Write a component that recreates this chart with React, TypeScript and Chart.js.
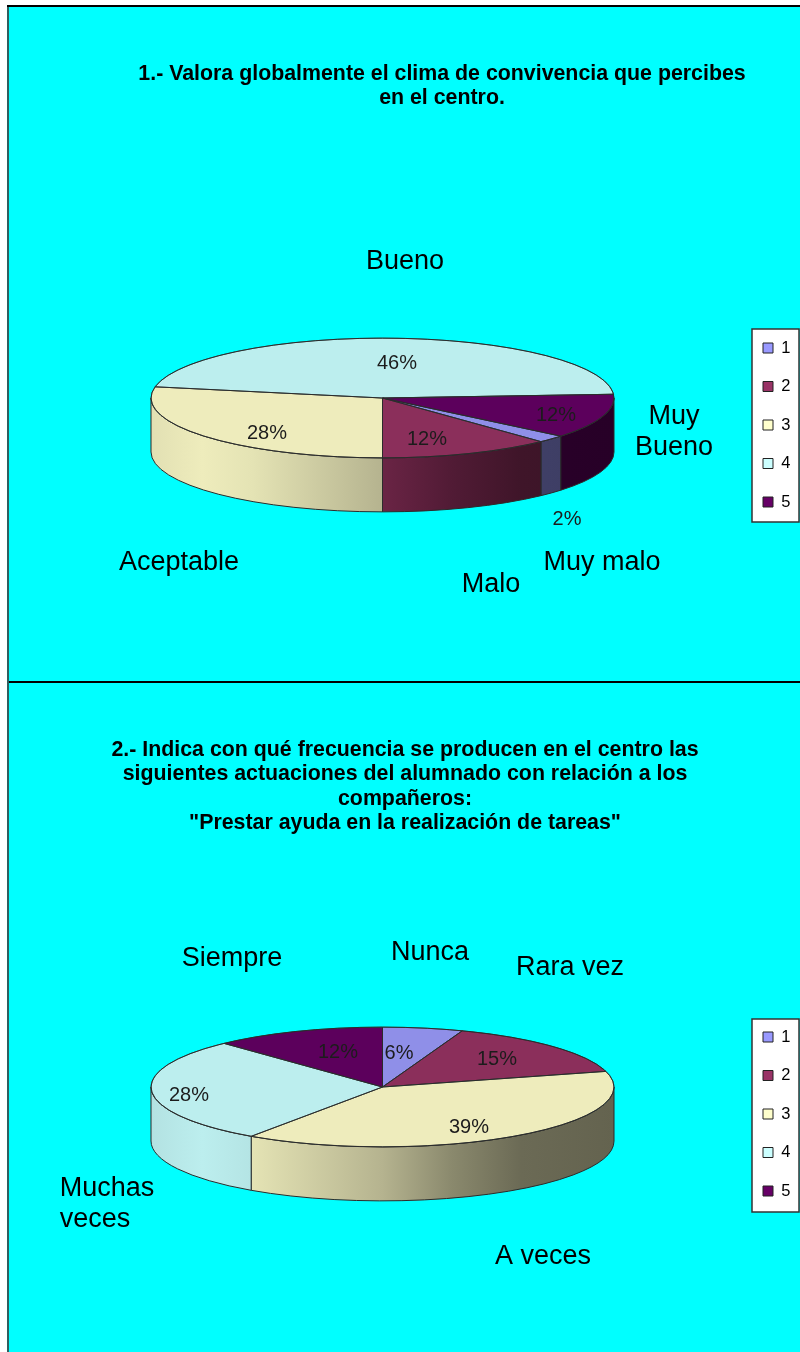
import React, { useEffect, useRef } from "react";
import { Chart, registerables } from "chart.js";

Chart.register(...registerables);

const legendKeys = ["1", "2", "3", "4", "5"];
const sliceColors = ["#8F8FE8", "#8B2F5B", "#EEECBC", "#BCEEEE", "#5C005C"];
const legendColors = ["#9999FF", "#993366", "#FFFFCC", "#CCFFFF", "#660066"];

const title1 = ["1.- Valora globalmente el clima de convivencia que percibes", "en el centro."];
const categories1 = ["Muy malo", "Malo", "Aceptable", "Bueno", ["Muy", "Bueno"]];
const values1 = [2, 12, 28, 46, 12];

const title2 = [
  "2.- Indica con qué frecuencia se producen en el centro las",
  "siguientes actuaciones del alumnado con relación a los",
  "compañeros:",
  "\"Prestar ayuda en la realización de tareas\"",
];
const categories2 = ["Nunca", "Rara vez", "A veces", ["Muchas", "veces"], "Siempre"];
const values2 = [5.6, 15.2, 38.8, 28.4, 12];

// Placement of hand-positioned text (page coordinates), separate from data
const layout1 = {
  top: 7, height: 675, rotation: 129.6, centerY: 398, titleX: 442, titleY: 74,
  legendTop: 329, legendBottom: 522, firstRow: 348,
  pct: [[567, 519], [427, 439], [267, 433], [397, 363], [556, 415]],
  cat: [[602, 563], [491, 585], [179, 563], [405, 262], [674, 417]],
  catAlign: [0, 0, 0, 0, 0],
};
const layout2 = {
  top: 682, height: 670, rotation: 0, centerY: 1087, titleX: 405, titleY: 750,
  legendTop: 1019, legendBottom: 1212, firstRow: 1037,
  pct: [[399, 1053], [497, 1059], [469, 1127], [189, 1095], [338, 1052]],
  cat: [[430, 953], [570, 968], [543, 1257], [107, 1189], [232, 959]],
  catAlign: [0, 0, 0, -12, 0],
};

const CANVAS_W = 792;
const LEFT = 8;
const CX = 382.5;
const RX = 232;
const RY = 60;
const DEPTH = 54;
const TITLE_SIZE = 21.35;
const TITLE_STEP = 24.4;
const LEGEND_FONT = 16.5;
const LEGEND_STEP = 38.5;

const light: [number, number][] = [
  [0, 0.95], [0.11, 1], [0.22, 0.96], [0.5, 0.76], [0.65, 0.58], [0.8, 0.45], [1, 0.42],
];

function shade(hex: string, f: number) {
  const n = parseInt(hex.slice(1), 16);
  const c = [(n >> 16) & 255, (n >> 8) & 255, n & 255].map((v) => Math.round(v * f));
  return `rgb(${c[0]},${c[1]},${c[2]})`;
}

function PieChart({ title, values, categories, cfg }: any) {
  const ref = useRef<HTMLCanvasElement>(null);
  useEffect(() => {
    const cy = cfg.centerY - cfg.top;
    const cxC = CX - LEFT;
    const titleH = title.length * TITLE_STEP;
    const squash = {
      id: "squash",
      beforeDraw(chart: any) {
        const t = chart.titleBlock;
        const half = 390;
        t.left = cfg.titleX - LEFT - half;
        t.right = cfg.titleX - LEFT + half;
        t.width = half * 2;
        t.top = cfg.titleY - cfg.top - TITLE_STEP / 2;
        t.bottom = t.top + titleH;
        const l = chart.legend;
        const pad = l.options.labels.padding;
        l.left = 763 - LEFT - pad;
        l.right = CANVAS_W + 40;
        l.top = cfg.firstRow - cfg.top - LEGEND_FONT / 2 - pad;
        l.bottom = cfg.legendBottom - cfg.top + 40;
        const ctx = chart.ctx;
        ctx.save();
        ctx.fillStyle = "#fff";
        ctx.strokeStyle = "#333";
        ctx.lineWidth = 1.5;
        ctx.beginPath();
        ctx.rect(752 - LEFT, cfg.legendTop - cfg.top, 47, cfg.legendBottom - cfg.legendTop);
        ctx.fill();
        ctx.stroke();
        ctx.restore();
      },
      beforeDatasetsDraw(chart: any) {
        const ctx = chart.ctx;
        const arcs = chart.getDatasetMeta(0).data;
        const a0 = arcs[0];
        const rx = a0.outerRadius;
        const x0 = a0.x;
        const y0 = a0.y;
        const ry = rx * (RY / RX);
        arcs.forEach((arc: any, i: number) => {
          for (const k of [-2, -1, 0, 1, 2]) {
            const s = Math.max(arc.startAngle, k * 2 * Math.PI);
            const e = Math.min(arc.endAngle, k * 2 * Math.PI + Math.PI);
            if (e <= s) continue;
            const g = ctx.createLinearGradient(x0 - rx, 0, x0 + rx, 0);
            light.forEach(([p, f]) => g.addColorStop(p, shade(sliceColors[i], f)));
            ctx.beginPath();
            ctx.ellipse(x0, y0, rx, ry, 0, s, e);
            ctx.ellipse(x0, y0 + DEPTH, rx, ry, 0, e, s, true);
            ctx.closePath();
            ctx.fillStyle = g;
            ctx.fill();
            ctx.strokeStyle = "#2b2b2b";
            ctx.lineWidth = 1;
            ctx.stroke();
          }
        });
        ctx.save();
        ctx.translate(x0, y0);
        ctx.scale(1, RY / RX);
        ctx.translate(-x0, -y0);
      },
      afterDatasetsDraw(chart: any) {
        const ctx = chart.ctx;
        ctx.restore();
        const arcs = chart.getDatasetMeta(0).data;
        const a0 = arcs[0];
        const rx = a0.outerRadius;
        const ry = rx * (RY / RX);
        ctx.save();
        ctx.strokeStyle = "#2b2b2b";
        ctx.lineWidth = 1;
        ctx.beginPath();
        ctx.ellipse(a0.x, a0.y, rx, ry, 0, 0, Math.PI * 2);
        ctx.stroke();
        arcs.forEach((arc: any) => {
          ctx.beginPath();
          ctx.moveTo(a0.x, a0.y);
          ctx.lineTo(a0.x + rx * Math.cos(arc.startAngle), a0.y + ry * Math.sin(arc.startAngle));
          ctx.stroke();
        });
        ctx.textAlign = "center";
        ctx.textBaseline = "middle";
        ctx.fillStyle = "#1c1c1c";
        ctx.font = '20px "Liberation Sans"';
        values.forEach((v: number, i: number) => {
          ctx.fillText(Math.round(v) + "%", cfg.pct[i][0] - LEFT, cfg.pct[i][1] - cfg.top);
        });
        ctx.fillStyle = "#000";
        ctx.font = '27px "Liberation Sans"';
        categories.forEach((c: any, i: number) => {
          const lines = Array.isArray(c) ? c : [c];
          lines.forEach((ln: string, j: number) => {
            const dx = j > 0 ? cfg.catAlign[i] : 0;
            ctx.fillText(ln, cfg.cat[i][0] - LEFT + dx, cfg.cat[i][1] - cfg.top + j * 31);
          });
        });
        ctx.restore();
      },
    };
    const chart = new Chart(ref.current as HTMLCanvasElement, {
      type: "pie",
      data: {
        labels: categories.map((c: any) => (Array.isArray(c) ? c.join(" ") : c)),
        datasets: [{
          data: values,
          backgroundColor: sliceColors,
          borderColor: "#2b2b2b",
          borderWidth: 1,
          clip: false,
        } as any],
      },
      options: {
        responsive: false,
        animation: false,
        rotation: cfg.rotation,
        events: [],
        layout: {
          padding: {
            left: cxC - RX,
            right: CANVAS_W - cxC - RX,
            top: cy - RX - titleH,
            bottom: cfg.height - cy - RX,
          },
        },
        plugins: {
          tooltip: { enabled: false },
          title: {
            display: true,
            text: title,
            color: "#000",
            padding: 0,
            fullSize: false,
            font: { family: '"Liberation Sans"', size: TITLE_SIZE, weight: "bold", lineHeight: TITLE_STEP / TITLE_SIZE },
          },
          legend: {
            display: true,
            position: "chartArea",
            align: "start",
            labels: {
              boxWidth: 10,
              boxHeight: 10,
              padding: LEGEND_STEP - LEGEND_FONT,
              color: "#333",
              font: { family: '"Liberation Sans"', size: LEGEND_FONT },
              generateLabels: () =>
                legendKeys.map((k, i) => ({
                  text: k,
                  fillStyle: legendColors[i],
                  strokeStyle: "#222",
                  lineWidth: 1,
                  hidden: false,
                  index: i,
                })),
            },
          },
        },
      } as any,
      plugins: [squash],
    });
    return () => chart.destroy();
  }, []);
  return (
    <canvas
      ref={ref}
      width={CANVAS_W}
      height={cfg.height}
      style={{ position: "absolute", left: LEFT, top: cfg.top, display: "block" }}
    />
  );
}

export default function App() {
  return (
    <div style={{ position: "absolute", left: 0, top: 0, width: 800, height: 1352, background: "#fff", overflow: "hidden" }}>
      <div style={{ position: "absolute", left: 9, top: 7, width: 791, height: 1345, background: "#00FFFF" }} />
      <div style={{ position: "absolute", left: 7, top: 7, width: 2, height: 1345, background: "#2F5F5F" }} />
      <div style={{ position: "absolute", left: 7, top: 5, width: 793, height: 2, background: "#000" }} />
      <PieChart title={title1} values={values1} categories={categories1} cfg={layout1} />
      <PieChart title={title2} values={values2} categories={categories2} cfg={layout2} />
      <div style={{ position: "absolute", left: 9, top: 681, width: 791, height: 2, background: "#000" }} />
    </div>
  );
}
